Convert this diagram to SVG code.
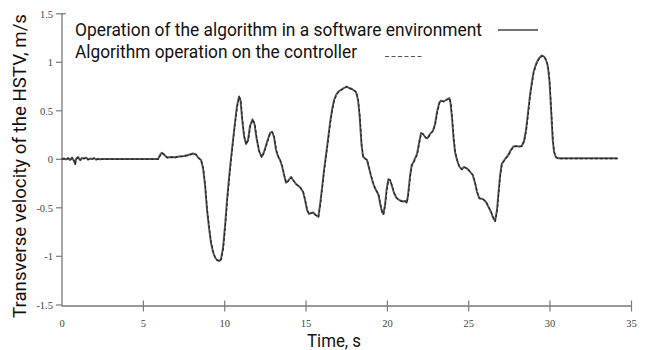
<svg xmlns="http://www.w3.org/2000/svg" width="647" height="350" viewBox="0 0 647 350">
  <style>
    .axis { stroke: #7a7a7a; stroke-width: 1.3; fill: none; }
    .tick { stroke: #7a7a7a; stroke-width: 1.2; }
    .num { font-family: "Liberation Serif", "Times New Roman", serif; font-size: 10.5px; fill: #444; }
    .lbl { font-family: Roboto, "Liberation Sans", sans-serif; font-size: 18px; fill: #111; }
    .sim { stroke: #555; stroke-width: 1.9; fill: none; stroke-linejoin: round; stroke-linecap: round; }
    .ctl { stroke: #222; stroke-width: 1.1; fill: none; stroke-dasharray: 3 2; stroke-linejoin: round; }
  </style>
  <rect width="647" height="350" fill="#fff"/>

  <!-- axes: x(t) = 62 + 16.27 t, y(v) = 159.3 - 97 v -->
  <g id="axes">
    <path class="axis" d="M62 13 V306 H632"/>
    <g class="tick">
      <line x1="56" y1="13.8" x2="66" y2="13.8"/>
      <line x1="56" y1="62.3" x2="62" y2="62.3"/>
      <line x1="56" y1="110.8" x2="62" y2="110.8"/>
      <line x1="56" y1="159.3" x2="62" y2="159.3"/>
      <line x1="56" y1="207.8" x2="62" y2="207.8"/>
      <line x1="56" y1="256.3" x2="62" y2="256.3"/>
      <line x1="56" y1="305" x2="62" y2="305"/>
      <line x1="143.4" y1="300.5" x2="143.4" y2="311.5"/>
      <line x1="224.7" y1="300.5" x2="224.7" y2="311.5"/>
      <line x1="306" y1="300.5" x2="306" y2="311.5"/>
      <line x1="387.4" y1="300.5" x2="387.4" y2="311.5"/>
      <line x1="468.7" y1="300.5" x2="468.7" y2="311.5"/>
      <line x1="550" y1="300.5" x2="550" y2="311.5"/>
      <line x1="631.5" y1="300.5" x2="631.5" y2="311.5"/>
    </g>
    <g class="num" text-anchor="end">
      <text x="53" y="17.5">1.5</text>
      <text x="53" y="66">1</text>
      <text x="53" y="114.5">0.5</text>
      <text x="53" y="163">0</text>
      <text x="53" y="211.5">-0.5</text>
      <text x="53" y="260">-1</text>
      <text x="53" y="308.7">-1.5</text>
    </g>
    <g class="num" text-anchor="middle">
      <text x="62" y="327">0</text>
      <text x="143.4" y="327">5</text>
      <text x="224.7" y="327">10</text>
      <text x="306" y="327">15</text>
      <text x="387.4" y="327">20</text>
      <text x="468.7" y="327">25</text>
      <text x="550" y="327">30</text>
      <text x="631.5" y="327">35</text>
    </g>
    <text class="lbl" x="307" y="346.5" textLength="54" lengthAdjust="spacingAndGlyphs">Time, s</text>
    <text class="lbl" transform="translate(25.5 318) rotate(-90)" x="0" y="0" textLength="304" lengthAdjust="spacingAndGlyphs">Transverse velocity of the HSTV, m/s</text>
  </g>

  <!-- legend -->
  <g id="legend">
    <text class="lbl" x="75" y="36" textLength="407" lengthAdjust="spacingAndGlyphs">Operation of the algorithm in a software environment</text>
    <text class="lbl" x="75" y="57.5" textLength="282" lengthAdjust="spacingAndGlyphs">Algorithm operation on the controller</text>
    <line x1="498" y1="30" x2="538" y2="30" stroke="#444" stroke-width="1.3"/>
    <line x1="385" y1="56.5" x2="423" y2="56.5" stroke="#555" stroke-width="1.1" stroke-dasharray="4 2.5"/>
  </g>

  <!-- velocity traces: software run (solid) and controller run (dashed) -->
  <defs>
    <polyline id="trace" points="62,159 64,158.5 66,159.5 68,158 70,160 72,157.5 74,161 75,164 76,159 78,157 80,160 82,158 84,158.5 86,157.5 88,159.5 90,158.5 92,159 94,158 96,159.5 98,158.8 100,159.2 102,159 158,159 160,155 161.7,152.7 164,154.5 167,157.5 171,157 175,157.3 179,156.5 184,156 188,155 193,153.5 196,154.5 198,157.5 201,160 203,168 205,185 207,210 209,228 211,243 213,252 215,257.5 217,260 219.5,261 221,259 223,248 225,226 227,200 229,178 231,158 233,140 235,122 237,106 239,96.5 240.5,100 242,118 244,136 246,144 248,140 250,126 252.5,119.3 254.5,124 256.5,138 259,151 261.5,157 264,152 267,142 270,133 272,131.7 274,137 276,150 278.3,157 280,160 282,166 284,175 286,182.7 288,181 291,177 293,180 296,184 300,187.3 303,191.7 305,200 307,210 309,214 311,213 313.3,212.5 315.5,215 318.3,216.7 320,205 322,188 324,170 326,155 328,139 330,123 332,110 334,100 336,95 338,92 340,90.5 343,88.5 346.7,86.5 349,88 352,89 356,92 358,100 359.5,115 360.5,130 361.5,145 363,156.5 365,158.5 367,160 369,168 371,176 373,183 375,188.3 377,192 378.5,195 380,203 382,212 383.3,214 385,205 386.5,190 388.3,179.3 390,180 392,186 394,193 396.7,198.3 400,200.5 403,201.5 405,201 406.7,202.7 408,195 410,176 411.7,165 413.5,162 415,158.3 417,154 419,143 421,133 423,134 425.5,137.5 427.3,138.3 430,134 433,130.5 435,124 437,112 439.3,102.5 441,100.5 443.3,101.5 446,100 449.3,98 450.5,103 452,118 453.5,138 455,152 457,160 459,166 461.7,169.3 464,167 466.7,168.3 469,170.5 472.7,175 475,183 477,192 479.3,198.3 481,198.5 483.3,199.3 486,202 488.3,206.7 491,212 493,217.5 495,221 497,210 498.5,192 500,176 501.7,164 504,160.5 506.5,157 508.3,155 510.5,150.5 513.3,146.5 516,146 519,146.5 521.7,146 524,141 526,130 528.3,110 530,95 531.7,83.3 533.5,72 536,64 538.5,59 541.7,55.5 544,56.5 546,60 547.5,65 548.5,72 549.5,82 550.5,100 551.5,118 552.7,140 554,152 556,157.3 558,158.3 617,158.3"/>
  </defs>
  <g id="curves">
    <use href="#trace" class="sim"/>
    <use href="#trace" class="ctl" transform="translate(0.4 0.3)"/>
  </g>
</svg>
